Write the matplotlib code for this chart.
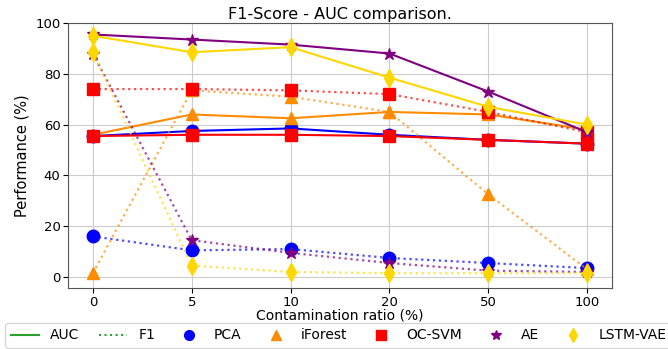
import matplotlib
matplotlib.use("Agg")
import matplotlib.pyplot as plt
from matplotlib.lines import Line2D

ratios = ["0", "5", "10", "20", "50", "100"]
models = ["PCA", "iForest", "OC-SVM", "AE", "LSTM-VAE"]
colors = ["blue", "darkorange", "red", "purple", "gold"]
markers = ["o", "^", "s", "*", "d"]

auc_pca = [55.5, 57.5, 58.5, 56, 54, 52.5]
auc_iforest = [56, 64, 62.5, 65, 64, 58]
auc_ocsvm = [55.5, 56, 56, 55.5, 54, 52.5]
auc_ae = [95.5, 93.5, 91.5, 88, 73, 57]
auc_lstm = [95, 88.5, 90.5, 78.5, 67, 60]

f1_pca = [16, 10.5, 11, 7.5, 5.5, 3.5]
f1_iforest = [1.5, 73.5, 71, 65, 32.5, 3]
f1_ocsvm = [74, 74, 73.5, 72, 65, 57]
f1_ae = [88, 14.5, 9.5, 5.5, 2.5, 2]
f1_lstm = [88.5, 4.5, 2, 1.5, 1.5, 1.5]

auc = [auc_pca, auc_iforest, auc_ocsvm, auc_ae, auc_lstm]
f1 = [f1_pca, f1_iforest, f1_ocsvm, f1_ae, f1_lstm]

fig = plt.figure(figsize=(6.68, 3.49), dpi=100)
ax = fig.add_axes([0.102, 0.175, 0.814, 0.759])
x = range(len(ratios))

for i in range(len(models)):
    # F1: dotted, a bit faded
    ax.plot(x, f1[i], color=colors[i], linestyle=":", linewidth=1.6, alpha=0.7)
    ax.plot(x, f1[i], color=colors[i], marker=markers[i], markersize=9,
            linestyle="None")
    # AUC: solid
    ax.plot(x, auc[i], color=colors[i], marker=markers[i], markersize=9,
            linestyle="-", linewidth=1.5)

ax.set_xticks(list(x))
ax.set_xticklabels(ratios)
ax.set_xlim(-0.25, 5.25)
ax.set_ylim(-4.3, 100)
ax.set_yticks([0, 20, 40, 60, 80, 100])
ax.tick_params(length=3.5, pad=2, labelsize=9.5)
for s in ax.spines.values():
    s.set_color("#555555")
ax.grid(True, color="#cccccc", linewidth=0.8)
ax.set_xlabel("Contamination ratio (%)", fontsize=10, labelpad=0)
ax.set_ylabel("Performance (%)", fontsize=10.5, labelpad=4)
ax.set_title("F1-Score - AUC comparison.", fontsize=11.5, pad=3)

handles = [Line2D([], [], color="tab:green", linestyle="-"),
           Line2D([], [], color="tab:green", linestyle=":")]
labels = ["AUC", "F1"]
for i in range(len(models)):
    handles.append(Line2D([], [], color=colors[i], marker=markers[i],
                          linestyle="None", markersize=7))
    labels.append(models[i])
fig.legend(handles, labels, loc="lower left", ncol=7,
           bbox_to_anchor=(0.008, 0.003), fontsize=10, borderaxespad=0.0,
           columnspacing=1.45)

fig.savefig("out.png", dpi=100)
